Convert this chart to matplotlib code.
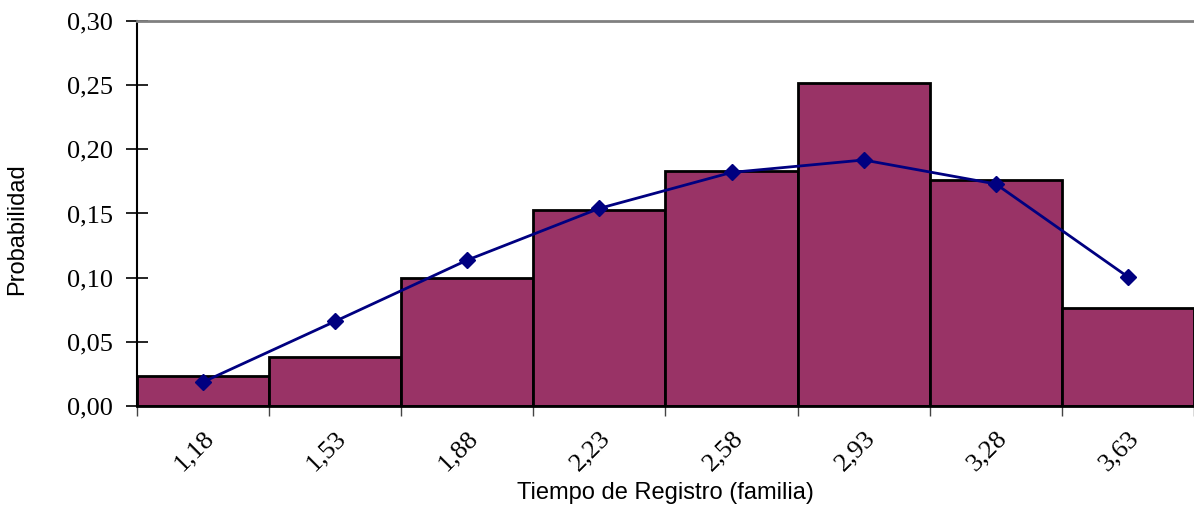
import numpy as np
import matplotlib.pyplot as plt

# class marks (tiempo de registro) and observed / fitted probabilities
clases = ["1,18", "1,53", "1,88", "2,23", "2,58", "2,93", "3,28", "3,63"]
observada = [0.0232, 0.0382, 0.0996, 0.1527, 0.183, 0.252, 0.176, 0.0764]
ajustada = [0.0187, 0.066, 0.1137, 0.154, 0.182, 0.1917, 0.173, 0.1006]

x = np.arange(len(clases))

fig = plt.figure(figsize=(11.94, 5.07), dpi=100)
ax = fig.add_axes([0.1147, 0.1992, 0.8853, 0.7594])

ax.bar(x, observada, width=1.0, color="#993366", edgecolor="black", linewidth=2, zorder=2)
ax.plot(x, ajustada, color="#000080", linewidth=2, marker="D", markersize=8, zorder=3)

ax.set_xlim(-0.5, len(clases) - 0.5)
ax.set_ylim(0, 0.30)

# y axis: ticks cross the axis line, comma decimals
yt = np.arange(0, 0.31, 0.05)
ax.set_yticks(yt)
ax.set_yticklabels([f"{v:.2f}".replace(".", ",") for v in yt],
                   fontfamily="Liberation Serif", fontsize=19)
ax.tick_params(axis="y", direction="inout", length=16, width=1.2, pad=9)

# x axis: tick marks between classes, labels at class centres
ax.set_xticks(np.arange(-0.5, len(clases)), labels=[])
ax.set_xticks(x, minor=True)
ax.set_xticklabels(clases, minor=True, rotation=45, ha="right", va="top",
                   rotation_mode="anchor", fontfamily="Liberation Serif", fontsize=19)
ax.tick_params(axis="x", which="major", direction="out", length=7, width=1, color="#444444")
ax.tick_params(axis="x", which="minor", length=0, pad=15)

ax.spines["top"].set_color("#808080")
ax.spines["top"].set_linewidth(2)
ax.spines["right"].set_visible(False)
ax.spines["left"].set_linewidth(1.5)
ax.spines["bottom"].set_linewidth(2)

ax.set_xlabel("Tiempo de Registro (familia)", fontfamily="Liberation Sans", fontsize=17, labelpad=5)
ax.set_ylabel("Probabilidad", fontfamily="Liberation Sans", fontsize=17, va="center")
ax.yaxis.set_label_coords(-0.113, 0.46)

fig.savefig("out.png", dpi=100)
